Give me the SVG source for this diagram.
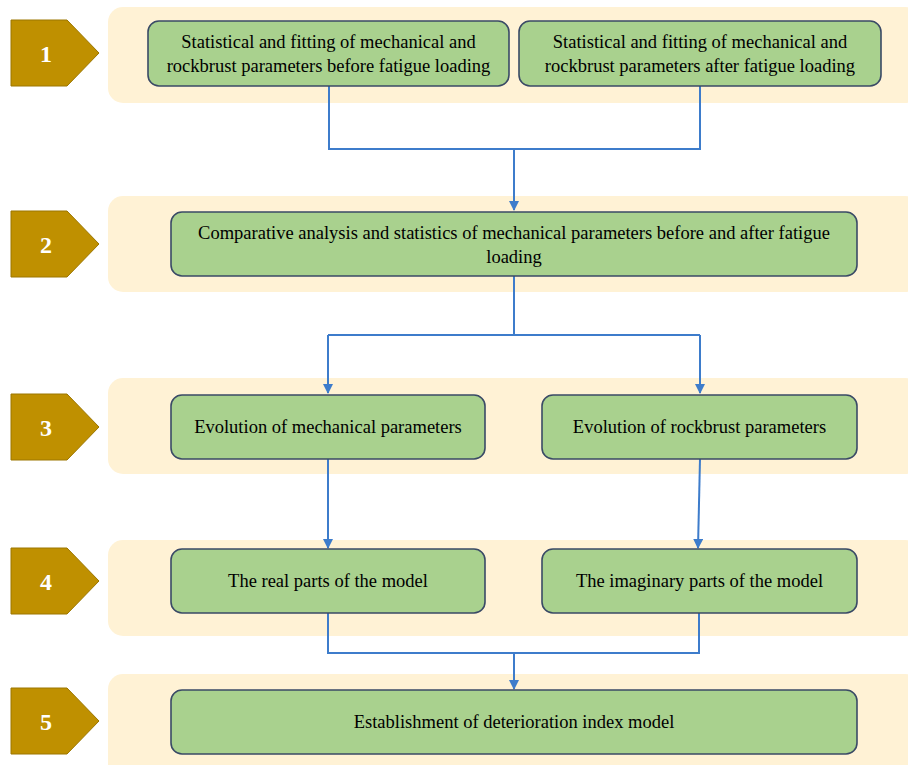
<svg xmlns="http://www.w3.org/2000/svg" width="908" height="765" viewBox="0 0 908 765">
<defs>
<style>
.band{fill:#FFF2D5;}
.tag{fill:#BF9000;stroke:#9C7600;stroke-width:1;}
.num{font-family:'Liberation Serif','Times New Roman',serif;font-weight:bold;font-size:24px;fill:#FFFFFF;text-anchor:middle;}
.box{fill:#A9D18E;stroke:#3A4A66;stroke-width:1.6;}
.lbl{font-family:'Liberation Serif','Times New Roman',serif;font-size:18.5px;fill:#000000;text-anchor:middle;}
.con{fill:none;stroke:#3D7CCB;stroke-width:2;}
</style>
<marker id="ah" viewBox="0 0 10 10" refX="9" refY="5" markerWidth="5" markerHeight="5" orient="auto" markerUnits="strokeWidth">
<path d="M0,0 L10,5 L0,10 z" fill="#3D7CCB"/>
</marker>
</defs>
<rect width="908" height="765" fill="#FFFFFF"/>
<g id="bands">
<rect class="band" x="108" y="7" width="812" height="96" rx="15"/>
<rect class="band" x="108" y="196" width="812" height="96" rx="15"/>
<rect class="band" x="108" y="378" width="812" height="96" rx="15"/>
<rect class="band" x="108" y="540" width="812" height="96" rx="15"/>
<rect class="band" x="108" y="674" width="812" height="110" rx="15"/>
</g>
<g id="step1"><path class="tag" d="M11,20 H67 L99,53 L67,86 H11 Z"/><text class="num" x="46" y="62">1</text></g>
<g id="step2"><path class="tag" d="M11,211 H67 L99,244 L67,277 H11 Z"/><text class="num" x="46" y="253">2</text></g>
<g id="step3"><path class="tag" d="M11,394 H67 L99,427 L67,460 H11 Z"/><text class="num" x="46" y="436">3</text></g>
<g id="step4"><path class="tag" d="M11,548 H67 L99,581 L67,614 H11 Z"/><text class="num" x="46" y="590">4</text></g>
<g id="step5"><path class="tag" d="M11,688 H67 L99,721 L67,754 H11 Z"/><text class="num" x="46" y="730">5</text></g>
<g id="connectors">
<path class="con" d="M329,86 V149 H700 V86"/>
<path class="con" d="M514,149 V210" marker-end="url(#ah)"/>
<path class="con" d="M514,276 V335"/>
<path class="con" d="M328,335 H700"/>
<path class="con" d="M328,335 V393" marker-end="url(#ah)"/>
<path class="con" d="M700,335 V393" marker-end="url(#ah)"/>
<path class="con" d="M328,459 V548" marker-end="url(#ah)"/>
<path class="con" d="M700,459 L698,548" marker-end="url(#ah)"/>
<path class="con" d="M328,613 V653 H699 V613"/>
<path class="con" d="M514,653 V689" marker-end="url(#ah)"/>
</g>
<g id="n1a"><rect class="box" x="148" y="21" width="361" height="65" rx="11"/>
<text class="lbl" x="328.5" y="48">Statistical and fitting of mechanical and</text>
<text class="lbl" x="328.5" y="72">rockbrust parameters before fatigue loading</text></g>
<g id="n1b"><rect class="box" x="519" y="21" width="362" height="65" rx="11"/>
<text class="lbl" x="700" y="48">Statistical and fitting of mechanical and</text>
<text class="lbl" x="700" y="72">rockbrust parameters after fatigue loading</text></g>
<g id="n2"><rect class="box" x="171" y="212" width="686" height="64" rx="11"/>
<text class="lbl" x="514" y="239">Comparative analysis and statistics of mechanical parameters before and after fatigue</text>
<text class="lbl" x="514" y="263">loading</text></g>
<g id="n3a"><rect class="box" x="171" y="395" width="314" height="64" rx="11"/>
<text class="lbl" x="328" y="433">Evolution of mechanical parameters</text></g>
<g id="n3b"><rect class="box" x="542" y="395" width="315" height="64" rx="11"/>
<text class="lbl" x="699.5" y="433">Evolution of rockbrust parameters</text></g>
<g id="n4a"><rect class="box" x="171" y="549" width="314" height="64" rx="11"/>
<text class="lbl" x="328" y="587">The real parts of the model</text></g>
<g id="n4b"><rect class="box" x="542" y="549" width="315" height="64" rx="11"/>
<text class="lbl" x="699.5" y="587">The imaginary parts of the model</text></g>
<g id="n5"><rect class="box" x="171" y="690" width="686" height="64" rx="11"/>
<text class="lbl" x="514" y="728">Establishment of deterioration index model</text></g>
</svg>
